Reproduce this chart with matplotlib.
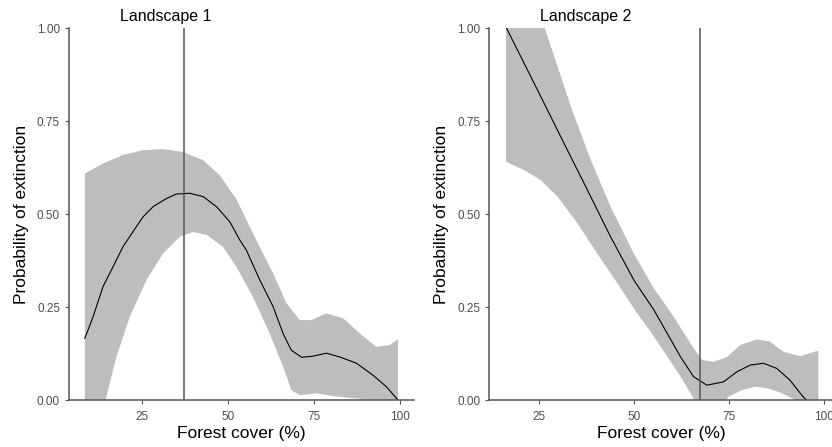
import numpy as np
import matplotlib
matplotlib.use('Agg')
from matplotlib import pyplot as plt

plt.rcParams['font.family'] = ['Liberation Sans', 'DejaVu Sans']

# Landscape 1 : fitted line, upper / lower bound of the ribbon
l1_x = [8.2, 10.6, 13.5, 16.4, 19.3, 23.2, 25.2, 28.1, 32.0, 34.9, 38.8, 42.7, 46.6, 50.5,
        53.4, 55.3, 59.2, 63.1, 66.0, 68.4, 71.4, 74.7, 78.6, 82.5, 87.4, 92.2, 96.1, 99.5]
l1_fit = [0.166, 0.224, 0.305, 0.358, 0.412, 0.466, 0.493, 0.52, 0.542, 0.554, 0.556, 0.547, 0.52, 0.479,
          0.43, 0.403, 0.323, 0.251, 0.179, 0.134, 0.115, 0.118, 0.126, 0.116, 0.099, 0.067, 0.036, 0.0]
l1_up_x = [8.2, 13.5, 19.3, 25.2, 31.0, 36.8, 42.7, 47.5, 52.4, 58.2, 63.1, 67.0, 70.9, 74.3,
           78.6, 83.5, 88.4, 93.2, 97.1, 99.5]
l1_up = [0.609, 0.636, 0.659, 0.672, 0.675, 0.667, 0.645, 0.605, 0.54, 0.43, 0.341, 0.26, 0.215, 0.215,
         0.233, 0.22, 0.179, 0.143, 0.148, 0.163]
l1_lo_x = [8.2, 11.5, 14.5, 17.4, 21.3, 26.2, 31.0, 35.9, 39.8, 43.7, 48.5, 52.4, 57.2, 62.1,
           66.0, 68.4, 70.9, 75.7, 80.6, 86.4, 92.2, 99.5]
l1_lo = [-0.3, -0.1, 0.009, 0.116, 0.224, 0.323, 0.394, 0.439, 0.452, 0.444, 0.412, 0.358, 0.278, 0.179,
         0.09, 0.027, 0.013, 0.018, 0.011, 0.005, 0.0, -0.04]
l1_vline = 37.2

# Landscape 2
l2_x = [16.4, 21.2, 25.6, 30.8, 37.8, 43.9, 50.0, 55.3, 58.8, 62.3, 65.7, 69.2, 73.6, 77.1,
        80.6, 84.1, 87.6, 91.0, 94.5, 95.4, 98.5]
l2_fit = [1.003, 0.905, 0.815, 0.708, 0.565, 0.439, 0.323, 0.242, 0.179, 0.116, 0.063, 0.04, 0.049, 0.076,
          0.094, 0.099, 0.085, 0.054, 0.009, 0.0, -0.04]
l2_up_x = [16.4, 22.0, 26.5, 30.0, 33.5, 38.7, 43.9, 50.0, 55.3, 60.5, 64.9, 67.9, 71.0, 74.5,
           78.0, 82.3, 85.8, 89.3, 93.7, 98.5]
l2_up = [1.3, 1.15, 1.003, 0.896, 0.788, 0.645, 0.52, 0.394, 0.3, 0.224, 0.152, 0.108, 0.103, 0.116,
         0.148, 0.163, 0.157, 0.13, 0.118, 0.133]
l2_lo_x = [16.4, 21.2, 25.6, 30.0, 35.2, 40.4, 45.7, 50.9, 54.0, 57.0, 62.3, 65.7, 69.0, 72.0,
           74.9, 78.5, 82.0, 85.5, 89.0, 92.5, 98.5]
l2_lo = [0.641, 0.618, 0.591, 0.547, 0.475, 0.394, 0.314, 0.233, 0.19, 0.145, 0.063, 0.005, -0.04, -0.03,
         0.009, 0.027, 0.036, 0.031, 0.018, 0.0, -0.06]
l2_vline = 67.5

panels = [
    ('Landscape 1', l1_x, l1_fit, l1_up_x, l1_up, l1_lo_x, l1_lo, l1_vline, (3.6, 104.1), [0.083, 0.105, 0.4143, 0.832]),
    ('Landscape 2', l2_x, l2_fit, l2_up_x, l2_up, l2_lo_x, l2_lo, l2_vline, (12.0, 102.6), [0.588, 0.105, 0.4143, 0.832]),
]

fig = plt.figure(figsize=(8.32, 4.47), dpi=100)
for title, x, fit, ux, up, lx, lo, vx, xlim, pos in panels:
    ax = fig.add_axes(pos)
    ax.fill(np.concatenate([ux, lx[::-1]]), np.concatenate([up, lo[::-1]]),
            color='#bdbdbd', lw=0)
    ax.plot(x, fit, color='black', lw=0.8)
    ax.axvline(vx, color='#555555', lw=1.1)
    ax.set_xlim(*xlim)
    ax.set_ylim(0, 1)
    ax.set_xticks([25, 50, 75, 100])
    ax.set_yticks([0, 0.25, 0.5, 0.75, 1.0])
    ax.set_yticklabels(['0.00', '0.25', '0.50', '0.75', '1.00'])
    for s in ['top', 'right']:
        ax.spines[s].set_visible(False)
    for s in ['left', 'bottom']:
        ax.spines[s].set_color('#555555')
        ax.spines[s].set_linewidth(1.1)
    ax.tick_params(colors='#555555', labelcolor='#4d4d4d', labelsize=8.5, length=3, width=0.8)
    ax.tick_params(axis='x', pad=5)
    ax.set_xlabel('Forest cover (%)', fontsize=12.5, labelpad=2)
    ax.set_ylabel('Probability of extinction', fontsize=12.5, labelpad=6)
    ax.text(0.148, 1.012, title, transform=ax.transAxes, fontsize=11.5, ha='left', va='bottom')

plt.savefig('out.png', dpi=100)
